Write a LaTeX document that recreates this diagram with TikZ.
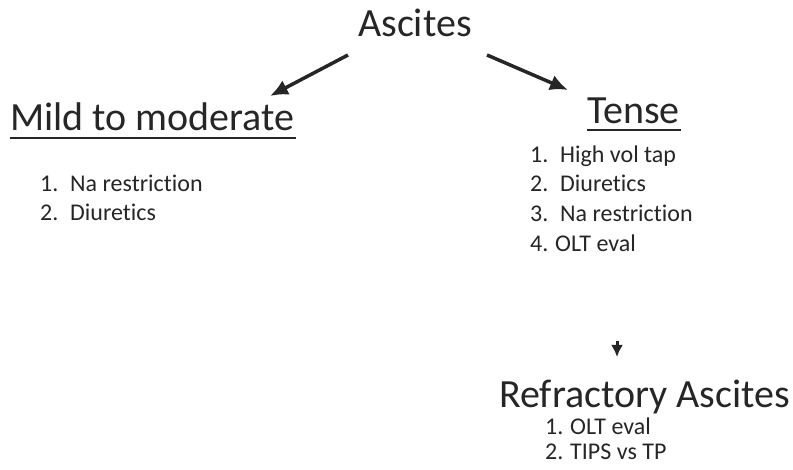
\documentclass[tikz,border=0pt]{standalone}
\usepackage{fontspec}
\setmainfont{Carlito}[Ligatures=NoCommon]
\usetikzlibrary{arrows.meta}
\definecolor{txt}{HTML}{262626}
\tikzset{
  head/.style={anchor=base west, inner sep=0, text=txt, font=\fontsize{40}{48}\selectfont},
  item/.style={anchor=base west, inner sep=0, text=txt, font=\fontsize{24}{28}\selectfont},
  arr/.style={draw=txt, line width=3.5pt, -{Latex[length=18pt,width=16pt]}},
  sarr/.style={draw=txt, line width=3pt, -{Latex[length=12pt,width=12pt]}},
  uline/.style={draw=txt, line width=2.2pt}
}
\newcommand{\num}[1]{\makebox[30pt][l]{#1}}
\newcommand{\numb}[1]{\makebox[25pt][l]{#1}}
\begin{document}
\begin{tikzpicture}[x=1pt,y=-1pt]
\useasboundingbox (0,0) rectangle (793,470);
% headings
\node[head] (asc) at (358,37) {Ascites};
\node[head] (mild) at (10,131) {Mild to moderate};
\node[head] (tense) at (587,124) {Tense};
\node[head] (refr) at (499,408) {Refractory Ascites};
% underlines
\draw[uline] ([yshift=-7pt]mild.base west) -- ([yshift=-7pt,xshift=1pt]mild.base east);
\draw[uline] ([yshift=-6pt]tense.base west) -- ([yshift=-6pt,xshift=1pt]tense.base east);
% lists
\node[item] (m1) at (40,192) {\num{1.}Na restriction};
\node[item] (m2) at (40,221) {\num{2.}Diuretics};
\node[item] (t1) at (530,163) {\num{1.}High vol tap};
\node[item] (t2) at (530,192) {\num{2.}Diuretics};
\node[item] (t3) at (530,222) {\num{3.}Na restriction};
\node[item] (t4) at (530,252) {\numb{4.}OLT eval};
\node[item] (r1) at (545,435) {\numb{1.}OLT eval};
\node[item] (r2) at (545,459) {\numb{2.}TIPS vs TP};
% arrows
\coordinate (la) at (348,55);
\coordinate (lb) at (270,96);
\coordinate (ra) at (487,55);
\coordinate (rb) at (568,90);
\coordinate (da) at (617,341);
\coordinate (db) at (617,357);
\draw[arr] (la) -- (lb);
\draw[arr] (ra) -- (rb);
\draw[sarr] (da) -- (db);
\end{tikzpicture}
\end{document}
